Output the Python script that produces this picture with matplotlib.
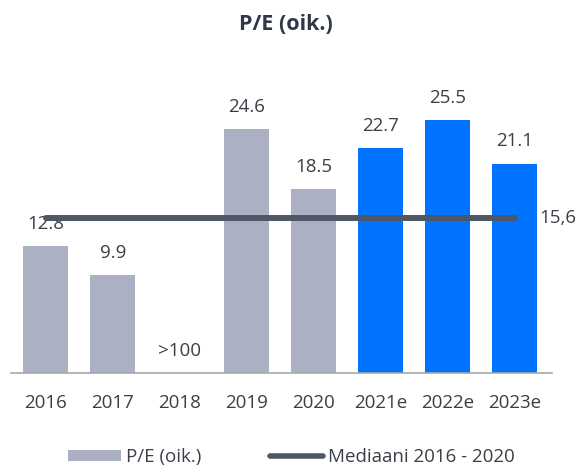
import matplotlib
matplotlib.use("Agg")
import matplotlib.pyplot as plt
from matplotlib.patches import Patch
from matplotlib.lines import Line2D

categories = ["2016", "2017", "2018", "2019", "2020", "2021e", "2022e", "2023e"]
pe_values = [12.8, 9.9, 0.0, 24.6, 18.5, 22.7, 25.5, 21.1]
pe_labels = ["12.8", "9.9", ">100", "24.6", "18.5", "22.7", "25.5", "21.1"]
is_estimate = [False, False, False, False, False, True, True, True]
median_value = 15.6
median_label = "15,6"
title = "P/E (oik.)"
legend_labels = ["P/E (oik.)", "Mediaani 2016 - 2020"]

GRAY = "#ABB1C3"
BLUE = "#0073FF"
LINE = "#4E5766"
TEXT = "#3A3F47"

plt.rcParams["font.family"] = ["Open Sans", "DejaVu Sans"]

fig = plt.figure(figsize=(5.77, 4.69), dpi=100)
ax = fig.add_axes([0.019, 0.2047, 0.938, 0.5923])

x = list(range(len(categories)))
colors = [BLUE if e else GRAY for e in is_estimate]
ax.bar(x, pe_values, width=0.67, color=colors, zorder=2)

for xi, v, lab in zip(x, pe_values, pe_labels):
    ax.annotate(lab, (xi, v), xytext=(0, 16), textcoords="offset points",
                ha="center", va="center", fontsize=13.5, color=TEXT)

ax.plot([x[0], x[-1]], [median_value, median_value], color=LINE, lw=4.3,
        solid_capstyle="round", zorder=3)
ax.annotate(median_label, (x[-1], median_value), xytext=(18, 0),
            textcoords="offset points", ha="left", va="center",
            fontsize=13.5, color=TEXT, annotation_clip=False)

ax.set_xlim(-0.52, 7.56)
ax.set_ylim(0, 28)
ax.set_xticks(x)
ax.set_xticklabels(categories, fontsize=13.5, color=TEXT)
ax.tick_params(axis="x", length=0, pad=15)
ax.set_yticks([])
for s in ["top", "right", "left"]:
    ax.spines[s].set_visible(False)
ax.spines["bottom"].set_color("#A3AAAA")
ax.spines["bottom"].set_linewidth(1.2)

fig.text(0.495, 0.947, title, ha="center", va="center", fontsize=15.5,
         fontweight="bold", color="#2E3846")

handles = [Patch(facecolor=GRAY, edgecolor="none"),
           Line2D([0], [0], color=LINE, lw=4, solid_capstyle="round")]
fig.legend(handles, legend_labels, loc="center", bbox_to_anchor=(0.505, 0.025),
           ncol=2, frameon=False, fontsize=13.5, handlelength=2.8,
           handleheight=0.55, handletextpad=0.25, columnspacing=3.7,
           labelcolor=TEXT)

fig.savefig("out.png", dpi=100)
